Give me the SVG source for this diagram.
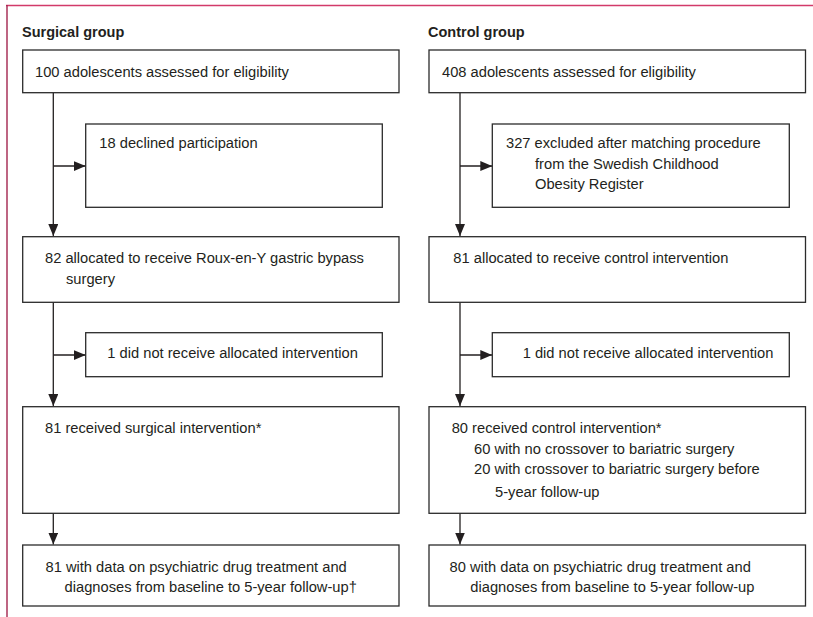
<svg xmlns="http://www.w3.org/2000/svg" width="813" height="617" viewBox="0 0 813 617">
<defs>
<style>
.box{fill:#fff;stroke:#2b2b2b;stroke-width:1.3}
.ln{fill:none;stroke:#231f20;stroke-width:1.3}
text{font-family:"Liberation Sans",Arial,sans-serif;font-size:14.7px;fill:#231f20}
.hd{font-weight:bold;font-size:14.5px}
</style>
<marker id="ah" viewBox="0 0 12 10" refX="12" refY="5" markerWidth="12" markerHeight="10" markerUnits="userSpaceOnUse" orient="auto">
<path d="M0,0 L12,5 L0,10 Z" fill="#231f20"/>
</marker>
</defs>
<rect width="813" height="617" fill="#fff"/>
<g id="frame">
<line x1="6" y1="5.5" x2="813" y2="5.5" stroke="#d23a6a" stroke-width="1.6"/>
<line x1="7" y1="5" x2="7" y2="617" stroke="#a3244e" stroke-width="1.4"/>
</g>
<g id="headers">
<text class="hd" x="22" y="36.5">Surgical group</text>
<text class="hd" x="428" y="36.5">Control group</text>
</g>
<g id="connectors">
<path class="ln" d="M53.3,92.7 V236" marker-end="url(#ah)"/>
<path class="ln" d="M53.3,166 H85.7" marker-end="url(#ah)"/>
<path class="ln" d="M53.3,302.3 V406" marker-end="url(#ah)"/>
<path class="ln" d="M53.3,355 H85.7" marker-end="url(#ah)"/>
<path class="ln" d="M53.3,513.3 V544.5" marker-end="url(#ah)"/>
<path class="ln" d="M460,92.7 V236" marker-end="url(#ah)"/>
<path class="ln" d="M460,166 H492.3" marker-end="url(#ah)"/>
<path class="ln" d="M460,302.3 V406" marker-end="url(#ah)"/>
<path class="ln" d="M460,355 H492.3" marker-end="url(#ah)"/>
<path class="ln" d="M460,513.3 V544.5" marker-end="url(#ah)"/>
</g>
<g id="s1">
<rect class="box" x="22.7" y="50" width="376.3" height="42.7"/>
<text x="35" y="76.7">100 adolescents assessed for eligibility</text>
</g>
<g id="s2">
<rect class="box" x="85.7" y="124" width="296.6" height="83.3"/>
<text x="99.3" y="148.3">18 declined participation</text>
</g>
<g id="s3">
<rect class="box" x="22.7" y="236.7" width="376.3" height="65.6"/>
<text x="45" y="263">82 allocated to receive Roux-en-Y gastric bypass</text>
<text x="66" y="284">surgery</text>
</g>
<g id="s4">
<rect class="box" x="85.7" y="332.7" width="296.6" height="44"/>
<text x="107.3" y="357.7">1 did not receive allocated intervention</text>
</g>
<g id="s5">
<rect class="box" x="22.7" y="406.7" width="376.3" height="106.6"/>
<text x="45" y="433.3">81 received surgical intervention*</text>
</g>
<g id="s6">
<rect class="box" x="22.7" y="545" width="376.3" height="61"/>
<text x="45.5" y="571.7">81 with data on psychiatric drug treatment and</text>
<text x="64.6" y="591.7">diagnoses from baseline to 5-year follow-up†</text>
</g>
<g id="c1">
<rect class="box" x="429" y="50" width="376.5" height="42.7"/>
<text x="442" y="76.7">408 adolescents assessed for eligibility</text>
</g>
<g id="c2">
<rect class="box" x="492.3" y="124" width="297" height="83.3"/>
<text x="506" y="148.3">327 excluded after matching procedure</text>
<text x="535" y="169">from the Swedish Childhood</text>
<text x="535" y="189.3">Obesity Register</text>
</g>
<g id="c3">
<rect class="box" x="429" y="236.7" width="376.5" height="65.6"/>
<text x="453.3" y="263">81 allocated to receive control intervention</text>
</g>
<g id="c4">
<rect class="box" x="492.3" y="332.7" width="297" height="44"/>
<text x="522.7" y="357.7">1 did not receive allocated intervention</text>
</g>
<g id="c5">
<rect class="box" x="429" y="406.7" width="376.5" height="106.6"/>
<text x="451.7" y="433.3">80 received control intervention*</text>
<text x="474" y="454.3">60 with no crossover to bariatric surgery</text>
<text x="474" y="474.3">20 with crossover to bariatric surgery before</text>
<text x="495" y="496.7">5-year follow-up</text>
</g>
<g id="c6">
<rect class="box" x="429" y="545" width="376.5" height="61"/>
<text x="449.6" y="571.7">80 with data on psychiatric drug treatment and</text>
<text x="470.3" y="591.7">diagnoses from baseline to 5-year follow-up</text>
</g>
</svg>
